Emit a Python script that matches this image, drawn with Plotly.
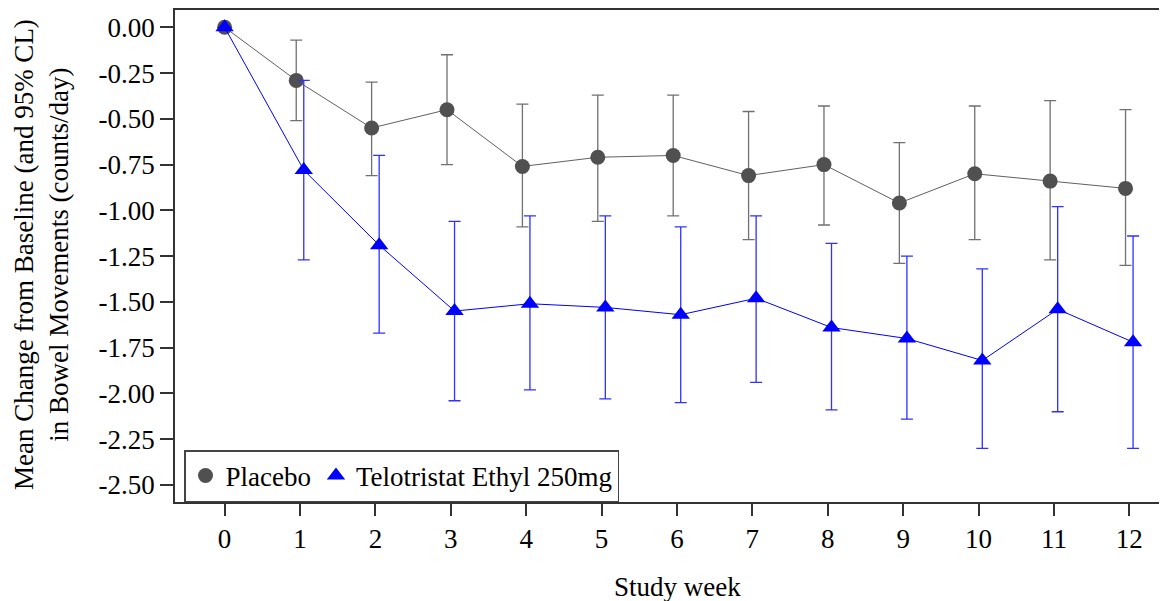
import plotly.graph_objects as go

weeks = [0, 1, 2, 3, 4, 5, 6, 7, 8, 9, 10, 11, 12]
week_labels = ["0", "1", "2", "3", "4", "5", "6", "7", "8", "9", "10", "11", "12"]

placebo_mean = [0.0, -0.29, -0.55, -0.45, -0.76, -0.71, -0.70, -0.81, -0.75, -0.96, -0.80, -0.84, -0.88]
placebo_lower = [None, -0.51, -0.81, -0.75, -1.09, -1.06, -1.03, -1.16, -1.08, -1.29, -1.16, -1.27, -1.30]
placebo_upper = [None, -0.07, -0.30, -0.15, -0.42, -0.37, -0.37, -0.46, -0.43, -0.63, -0.43, -0.40, -0.45]

telo_mean = [0.0, -0.78, -1.19, -1.55, -1.51, -1.53, -1.57, -1.48, -1.64, -1.70, -1.82, -1.54, -1.72]
telo_lower = [None, -1.27, -1.67, -2.04, -1.98, -2.03, -2.05, -1.94, -2.09, -2.14, -2.30, -2.10, -2.30]
telo_upper = [None, -0.29, -0.70, -1.06, -1.03, -1.03, -1.09, -1.03, -1.18, -1.25, -1.32, -0.98, -1.14]

y_ticks = [0.0, -0.25, -0.5, -0.75, -1.0, -1.25, -1.5, -1.75, -2.0, -2.25, -2.5]
y_tick_labels = ["0.00", "-0.25", "-0.50", "-0.75", "-1.00", "-1.25", "-1.50", "-1.75", "-2.00", "-2.25", "-2.50"]

series_names = ["Placebo", "Telotristat Ethyl 250mg"]

OFFSET = 0.05
x_placebo = [w - OFFSET if w > 0 else w for w in weeks]
x_telo = [w + OFFSET if w > 0 else w for w in weeks]

def err(mean, lower, upper):
    plus = [None if u is None else u - m for m, u in zip(mean, upper)]
    minus = [None if l is None else m - l for m, l in zip(mean, lower)]
    return plus, minus

p_plus, p_minus = err(placebo_mean, placebo_lower, placebo_upper)
t_plus, t_minus = err(telo_mean, telo_lower, telo_upper)

GRAY = "#505050"
BLUE = "#0000ff"
FONT = "Liberation Serif"
FS = 27

# page body has an 8px margin; figure sized to fill the rest of the window
W, H = 1159, 593
ML, MT, MB = 167, 2, 99
PW = W - ML
PH = H - MT - MB

fig = go.Figure()
fig.add_trace(go.Scatter(
    x=x_placebo, y=placebo_mean, mode="lines+markers", showlegend=False,
    line=dict(color="#606060", width=1),
    marker=dict(symbol="circle", size=15, color=GRAY),
    error_y=dict(type="data", symmetric=False, array=p_plus, arrayminus=p_minus,
                 color="#707070", thickness=1.3, width=6),
))
fig.add_trace(go.Scatter(
    x=x_telo, y=telo_mean, mode="lines+markers", showlegend=False,
    line=dict(color=BLUE, width=1),
    marker=dict(symbol="triangle-up", size=16, color=BLUE),
    error_y=dict(type="data", symmetric=False, array=t_plus, arrayminus=t_minus,
                 color="#3030ff", thickness=1.3, width=6),
))
# legend entries (marker only)
fig.add_trace(go.Scatter(x=[None], y=[None], mode="markers", name=series_names[0],
                         marker=dict(symbol="circle", size=15, color=GRAY)))
fig.add_trace(go.Scatter(x=[None], y=[None], mode="markers", name=series_names[1],
                         marker=dict(symbol="triangle-up", size=16, color=BLUE)))

def px_x(px):
    return (px - 8 - ML) / PW

def px_y(py):
    return (MT + PH - (py - 8)) / PH

fig.update_layout(
    width=W, height=H,
    margin=dict(l=ML, r=0, t=MT, b=MB),
    plot_bgcolor="white", paper_bgcolor="white",
    font=dict(family=FONT, size=FS, color="black"),
    showlegend=True,
    legend=dict(
        orientation="h", x=px_x(184), y=px_y(476), xanchor="left", yanchor="middle",
        bgcolor="white", bordercolor="#444444", borderwidth=1.5,
        font=dict(family=FONT, size=FS, color="black"),
        itemwidth=30, tracegroupgap=0,
    ),
    xaxis=dict(
        range=[-0.658, 12.5], tickmode="array", tickvals=weeks, ticktext=week_labels,
        showgrid=False, zeroline=False, showline=True, linecolor="#333333", linewidth=1.5,
        mirror=True, ticks="outside", ticklen=12, tickcolor="#333333", tickwidth=1.5,
        tickfont=dict(family=FONT, size=FS),
    ),
    yaxis=dict(
        range=[-2.593, 0.0945], tickmode="array", tickvals=y_ticks, ticktext=y_tick_labels,
        showgrid=False, zeroline=False, showline=True, linecolor="#333333", linewidth=1.5,
        mirror=False, ticks="outside", ticklen=13, tickcolor="#333333", tickwidth=1.5,
        tickfont=dict(family=FONT, size=FS),
    ),
    annotations=[
        dict(text="Mean Change from Baseline (and 95% CL)<br>in Bowel Movements (counts/day)",
             xref="paper", yref="paper", x=px_x(42), y=px_y(255),
             xanchor="center", yanchor="middle", textangle=-90, showarrow=False,
             font=dict(family=FONT, size=FS, color="black")),
        dict(text="Study week", xref="paper", yref="paper",
             x=px_x(677), y=px_y(587), xanchor="center", yanchor="middle",
             showarrow=False, font=dict(family=FONT, size=FS, color="black")),
    ],
)

fig.write_html("out.html")
